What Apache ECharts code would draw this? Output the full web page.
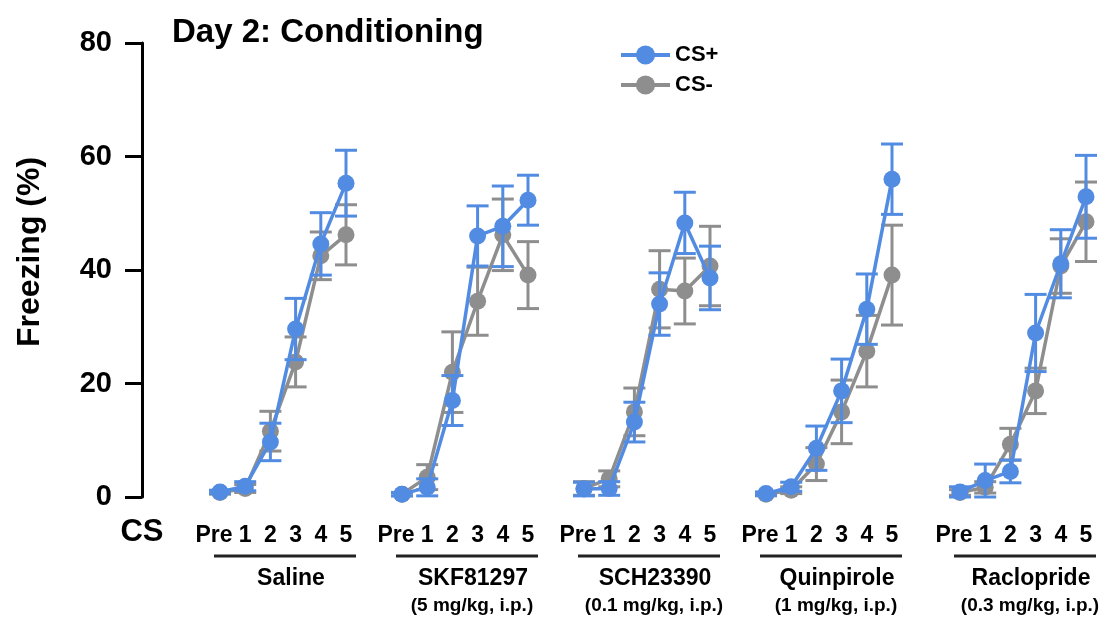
<!DOCTYPE html>
<html>
<head>
<meta charset="utf-8">
<script src="https://cdn.jsdelivr.net/npm/echarts@6/dist/echarts.min.js"></script>
<style>
  html, body { margin: 0; padding: 0; background: #fff; }
  #chart { width: 1117px; height: 619px; }
</style>
</head>
<body>
<div id="chart"></div>
<script>
const trials = ["Pre", "1", "2", "3", "4", "5"];
const groups = ["Saline", "SKF81297", "SCH23390", "Quinpirole", "Raclopride"];
const doses = ["", "(5 mg/kg, i.p.)", "(0.1 mg/kg, i.p.)", "(1 mg/kg, i.p.)", "(0.3 mg/kg, i.p.)"];

// mean freezing (%) per group, CS+ and CS-
const csPlusMean = [
  [0.9, 1.9, 9.7, 29.6, 44.6, 55.3],
  [0.5, 1.7, 17.0, 46.0, 47.7, 52.3],
  [1.4, 1.5, 13.2, 34.0, 48.3, 38.6],
  [0.6, 1.8, 8.6, 18.7, 33.1, 56.0],
  [0.9, 2.9, 4.5, 28.9, 41.1, 52.9],
];
const csPlusSem = [
  [0.3, 0.8, 3.3, 5.4, 5.5, 5.8],
  [0.3, 1.5, 4.4, 5.3, 7.1, 4.4],
  [1.2, 1.2, 3.5, 5.5, 5.4, 5.6],
  [0.3, 0.8, 3.9, 5.6, 6.2, 6.2],
  [0.9, 2.9, 2.0, 6.8, 6.0, 7.3],
];
const csMinusMean = [
  [0.8, 1.5, 11.6, 23.8, 42.5, 46.2],
  [0.5, 3.5, 22.0, 34.5, 46.2, 39.1],
  [1.5, 3.2, 15.0, 36.6, 36.3, 40.7],
  [0.5, 1.2, 5.8, 15.0, 25.7, 39.1],
  [0.8, 1.7, 9.3, 18.7, 40.7, 48.5],
];
const csMinusSem = [
  [0.3, 0.7, 3.5, 4.4, 4.2, 5.3],
  [0.3, 2.2, 7.1, 6.0, 6.3, 5.9],
  [1.2, 1.4, 4.2, 6.8, 5.8, 7.0],
  [0.3, 0.6, 2.9, 5.6, 6.3, 8.8],
  [0.5, 1.0, 2.8, 4.0, 4.8, 7.0],
];
const yTicks = { min: 0, max: 80, interval: 20 };

const BLUE = "#528ce2";
const GRAY = "#8e8e8e";
const FONT = "Liberation Sans, Arial, sans-serif";
const gridLefts = [220, 402, 584, 766, 960];
const gridWidth = 126;
const gridTop = 43;
const gridBottom = 122;

const chart = echarts.init(document.getElementById("chart"));

function errorBarSeries(name, color, g, mean, sem, z) {
  return {
    name,
    type: "custom",
    xAxisIndex: g,
    yAxisIndex: g,
    z,
    clip: false,
    silent: true,
    data: mean.map((m, i) => [i, m - sem[i], m + sem[i]]),
    renderItem(params, api) {
      const lo = api.coord([api.value(0), api.value(1)]);
      const hi = api.coord([api.value(0), api.value(2)]);
      const half = 11;
      const style = { stroke: color, lineWidth: 3 };
      return {
        type: "group",
        children: [
          { type: "line", shape: { x1: hi[0], y1: hi[1], x2: lo[0], y2: lo[1] }, style },
          { type: "line", shape: { x1: hi[0] - half, y1: hi[1], x2: hi[0] + half, y2: hi[1] }, style },
          { type: "line", shape: { x1: lo[0] - half, y1: lo[1], x2: lo[0] + half, y2: lo[1] }, style },
        ],
      };
    },
  };
}

function lineSeries(name, color, g, mean, z) {
  return {
    name,
    type: "line",
    xAxisIndex: g,
    yAxisIndex: g,
    z,
    clip: false,
    data: mean,
    symbol: "circle",
    symbolSize: 17,
    lineStyle: { color, width: 3.5 },
    itemStyle: { color },
  };
}

const grids = [];
const xAxes = [];
const yAxes = [];
const series = [];
const graphics = [];

groups.forEach((group, g) => {
  const left = gridLefts[g];
  grids.push({ left, top: gridTop, bottom: gridBottom, width: gridWidth });

  xAxes.push({
    type: "category",
    gridIndex: g,
    boundaryGap: false,
    data: trials.map((t) => (t === "Pre" ? { value: t, textStyle: { padding: [0, 12, 0, 0] } } : t)),
    axisLine: { show: false },
    axisTick: { show: false },
    axisLabel: { color: "#000", fontFamily: FONT, fontWeight: "bold", fontSize: 23, margin: 27, interval: 0 },
  });

  yAxes.push({
    type: "value",
    gridIndex: g,
    min: yTicks.min,
    max: yTicks.max,
    interval: yTicks.interval,
    show: g === 0,
    offset: g === 0 ? left - 142 : 0,
    name: g === 0 ? "Freezing (%)" : "",
    nameLocation: "middle",
    nameGap: 96,
    nameTextStyle: { color: "#000", fontFamily: FONT, fontWeight: "bold", fontSize: 32, padding: [0, 0, 0, 36] },
    axisLine: { show: true, lineStyle: { color: "#000", width: 3 } },
    axisTick: { show: true, length: 17, lineStyle: { color: "#000", width: 3 } },
    axisLabel: { color: "#000", fontFamily: FONT, fontWeight: "bold", fontSize: 29, margin: 30 },
    splitLine: { show: false },
  });

  series.push(errorBarSeries("CS- sem", GRAY, g, csMinusMean[g], csMinusSem[g], 2));
  series.push(lineSeries("CS-", GRAY, g, csMinusMean[g], 3));
  series.push(errorBarSeries("CS+ sem", BLUE, g, csPlusMean[g], csPlusSem[g], 4));
  series.push(lineSeries("CS+", BLUE, g, csPlusMean[g], 5));

  graphics.push({
    type: "line",
    shape: { x1: left - 6, y1: 556, x2: left + 136, y2: 556 },
    style: { stroke: "#222", lineWidth: 3 },
  });
  graphics.push({
    type: "text",
    x: left + 71,
    y: 579,
    style: { text: group, fill: "#000", font: `bold 23px ${FONT}`, textAlign: "center", textVerticalAlign: "middle" },
  });
  if (doses[g]) {
    graphics.push({
      type: "text",
      x: left + 70,
      y: 606,
      style: { text: doses[g], fill: "#000", font: `bold 19px ${FONT}`, textAlign: "center", textVerticalAlign: "middle" },
    });
  }
});

graphics.push({
  type: "text",
  x: 142,
  y: 532,
  style: { text: "CS", fill: "#000", font: `bold 31px ${FONT}`, textAlign: "center", textVerticalAlign: "middle" },
});

chart.setOption({
  animation: false,
  backgroundColor: "#fff",
  title: {
    text: "Day 2: Conditioning",
    left: 167,
    top: 11,
    textStyle: { color: "#000", fontFamily: FONT, fontWeight: "bold", fontSize: 33 },
  },
  legend: {
    data: ["CS+", "CS-"],
    orient: "vertical",
    left: 619,
    top: 44,
    padding: 0,
    itemWidth: 49,
    itemHeight: 24,
    itemGap: 8,
    lineStyle: { width: 4 },
    textStyle: { color: "#000", fontFamily: FONT, fontWeight: "bold", fontSize: 22 },
  },
  grid: grids,
  xAxis: xAxes,
  yAxis: yAxes,
  series,
  graphic: graphics,
});
</script>
</body>
</html>
